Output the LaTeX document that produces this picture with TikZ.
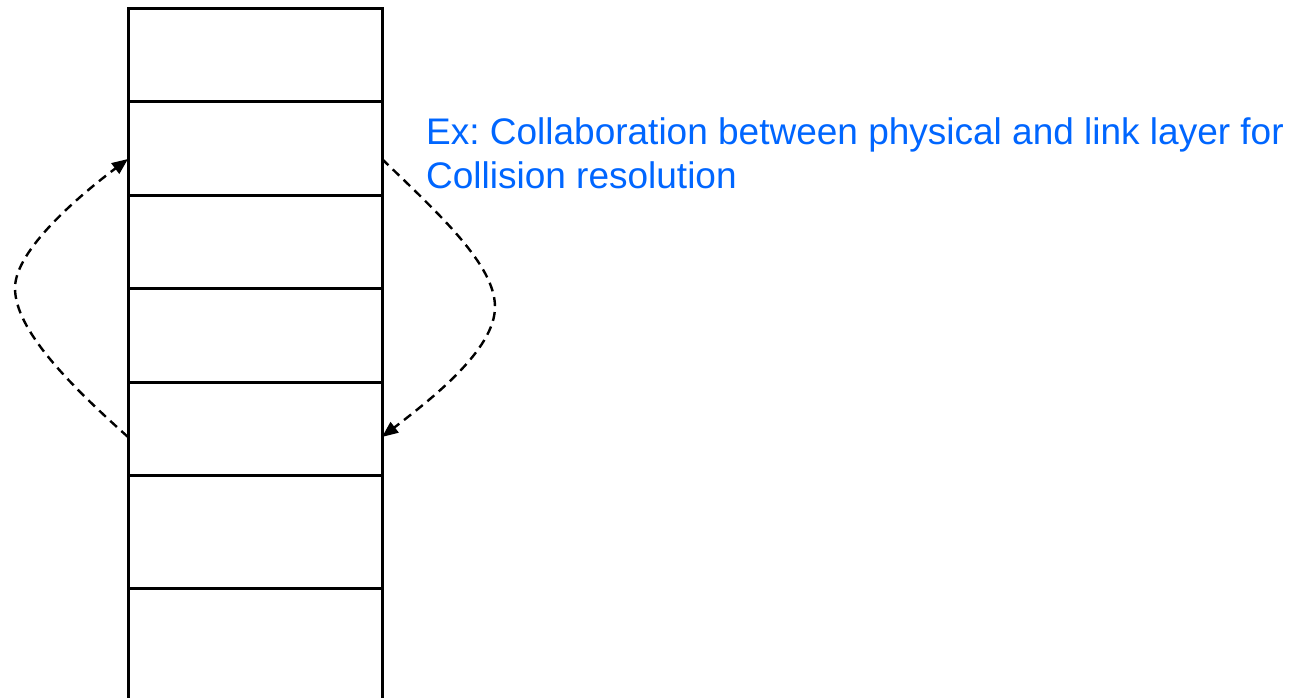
\documentclass[tikz,border=0pt]{standalone}
\usepackage{fontspec}
\setmainfont{Liberation Sans}
\usetikzlibrary{arrows.meta}
\definecolor{txtblue}{RGB}{0,102,255}
\begin{document}
\begin{tikzpicture}[x=1pt,y=-1pt,
  layer/.style={draw, line width=3pt, minimum width=254pt, inner sep=0pt, outer sep=0pt},
  flow/.style={dash pattern=on 9pt off 6pt, line width=2.4pt, -{Triangle[length=16pt,width=13pt]}},
  note/.style={anchor=base west, text=txtblue, font=\fontsize{37}{44}\selectfont\frenchspacing, align=left, inner sep=0pt}]
\useasboundingbox (0,0) rectangle (1307,698);
\clip (0,0) rectangle (1307,698);
\fill[white] (0,0) rectangle (1307,698);
\node[layer, minimum height=93pt]  (L1) at (255,55.5)  {};
\node[layer, minimum height=93pt]  (L2) at (255,148.5) {};
\node[layer, minimum height=93pt]  (L3) at (255,241.5) {};
\node[layer, minimum height=94pt]  (L4) at (255,335)   {};
\node[layer, minimum height=93pt]  (L5) at (255,428.5) {};
\node[layer, minimum height=113pt] (L6) at (255,531.5) {};
\node[layer, minimum height=113pt] (L7) at (255,644.5) {};
\coordinate (lp) at (15,288);
\coordinate (rp) at (495,307);
\draw[flow] ([yshift=-8.5pt]L5.west) .. controls +(-58,-52) and +(0,42) .. (lp)
            .. controls +(0,-38) and +(-48,36) .. ([yshift=-10.5pt]L2.west);
\draw[flow] ([yshift=-10.5pt]L2.east) .. controls +(58,56) and +(0,-42) .. (rp)
            .. controls +(0,43) and +(48,-37) .. ([yshift=-8.5pt]L5.east);
\node[note] (txt) at (426,188.3) {Ex: Collaboration between physical and link layer for\\Collision resolution};
\end{tikzpicture}
\end{document}
